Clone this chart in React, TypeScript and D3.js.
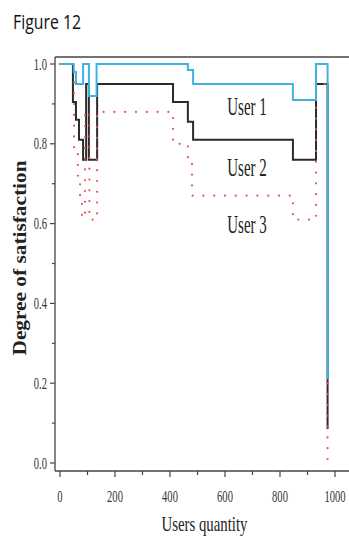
import React from "react";
import * as d3 from "d3";

const xTicks = [0, 200, 400, 600, 800, 1000];
const xMinor = [100, 300, 500, 700, 900];
const yTicks = [0, 0.2, 0.4, 0.6, 0.8, 1.0];
const yMinor = [0.1, 0.3, 0.5, 0.7, 0.9];

const user1X = [0, 50, 58, 84, 105, 133, 465, 484, 847, 931, 973];
const user1Y = [1.0, 0.98, 0.95, 1.0, 0.92, 1.0, 0.985, 0.95, 0.91, 1.0, 0.21];

const user2X = [0, 47, 58, 69, 84, 95, 105, 135, 411, 465, 484, 847, 931, 973];
const user2Y = [1.0, 0.905, 0.86, 0.81, 0.76, 0.95, 0.76, 0.95, 0.905, 0.855, 0.81, 0.76, 0.95, 0.085];

const user3X = [0, 51, 65, 73, 80, 91, 107, 135, 411, 465, 480, 847, 931, 973];
const user3Y = [1.0, 0.79, 0.705, 0.67, 0.615, 0.88, 0.61, 0.88, 0.8, 0.75, 0.67, 0.61, 0.95, 0.0];

const seriesLabels = [
  { text: "User 1", x: 680, y: 0.872 },
  { text: "User 2", x: 680, y: 0.72 },
  { text: "User 3", x: 680, y: 0.577 },
];

const W = 349;
const H = 537;
const frameL = 55;
const frameT = 57;
const frameB = 471;
const frameR = 365;

const SERIF = "'Liberation Serif', 'DejaVu Serif', serif";

export default function App() {
  const x = d3.scaleLinear().domain([0, 1000]).range([60, 335]);
  const y = d3.scaleLinear().domain([0, 1]).range([463, 64]);

  const mk = (xs: number[], ys: number[]) =>
    d3
      .line<number>()
      .x((_, i) => x(xs[i]))
      .y((d) => y(d))
      .curve(d3.curveStepAfter)(ys) as string;

  const p1 = mk(user1X, user1Y);
  const p2 = mk(user2X, user2Y);
  const p3 = mk(user3X, user3Y);

  const sx = 0.62;

  return (
    <svg
      width={W}
      height={H}
      style={{ position: "absolute", left: 0, top: 0, background: "#fff" }}
    >
      <rect x={0} y={0} width={W} height={H} fill="#fff" />
      <text
        x={13}
        y={29}
        fontFamily="'Open Sans', 'Noto Sans', sans-serif"
        fontSize={19.5}
        textLength={68}
        lengthAdjust="spacingAndGlyphs"
        fill="#111"
      >
        Figure 12
      </text>

      {/* frame */}
      <line x1={frameL} y1={frameT} x2={frameR} y2={frameT} stroke="#444" strokeWidth={1.3} />
      <line x1={frameL} y1={frameT} x2={frameL} y2={frameB} stroke="#444" strokeWidth={1.3} />
      <line x1={frameL} y1={frameB} x2={frameR} y2={frameB} stroke="#444" strokeWidth={1.3} />

      {/* y ticks */}
      {yTicks.map((t) => (
        <g key={"yt" + t}>
          <line x1={frameL - 5} x2={frameL} y1={y(t)} y2={y(t)} stroke="#444" strokeWidth={1.2} />
          <text
            transform={`translate(47,${y(t) + 5.5}) scale(${sx},1)`}
            textAnchor="end"
            fontFamily={SERIF}
            fontSize={17}
            fill="#333"
          >
            {t.toFixed(1)}
          </text>
        </g>
      ))}
      {yMinor.map((t) => (
        <line key={"ym" + t} x1={frameL - 3} x2={frameL} y1={y(t)} y2={y(t)} stroke="#444" strokeWidth={1.2} />
      ))}

      {/* x ticks */}
      {xTicks.map((t) => (
        <g key={"xt" + t}>
          <line x1={x(t)} x2={x(t)} y1={frameB} y2={frameB + 6} stroke="#444" strokeWidth={1.2} />
          <text
            transform={`translate(${x(t)},502) scale(${sx},1)`}
            textAnchor="middle"
            fontFamily={SERIF}
            fontSize={17}
            fill="#333"
          >
            {t}
          </text>
        </g>
      ))}
      {xMinor.map((t) => (
        <line key={"xm" + t} x1={x(t)} x2={x(t)} y1={frameB} y2={frameB + 4} stroke="#444" strokeWidth={1.2} />
      ))}

      {/* axis titles */}
      <text
        x={204.5}
        y={531}
        textAnchor="middle"
        fontFamily={SERIF}
        fontSize={22}
        textLength={86}
        lengthAdjust="spacingAndGlyphs"
        fill="#222"
      >
        Users quantity
      </text>
      <text
        transform="translate(26,258) rotate(-90)"
        textAnchor="middle"
        fontFamily={SERIF}
        fontSize={18}
        fontWeight="bold"
        textLength={195}
        lengthAdjust="spacingAndGlyphs"
        fill="#222"
      >
        Degree of satisfaction
      </text>

      {/* series */}
      <path d={p2} fill="none" stroke="#2b2b2b" strokeWidth={2} />
      <path
        d={p3}
        fill="none"
        stroke="#e8505a"
        strokeWidth={2.2}
        strokeDasharray="0 10.8"
        strokeLinecap="round"
      />
      <path d={p1} fill="none" stroke="#3fb2e4" strokeWidth={2} />

      {seriesLabels.map((l) => (
        <text
          key={l.text}
          transform={`translate(${x(l.x)},${y(l.y)}) scale(0.6,1)`}
          textAnchor="middle"
          fontFamily={SERIF}
          fontSize={25}
          fill="#222"
        >
          {l.text}
        </text>
      ))}
    </svg>
  );
}
